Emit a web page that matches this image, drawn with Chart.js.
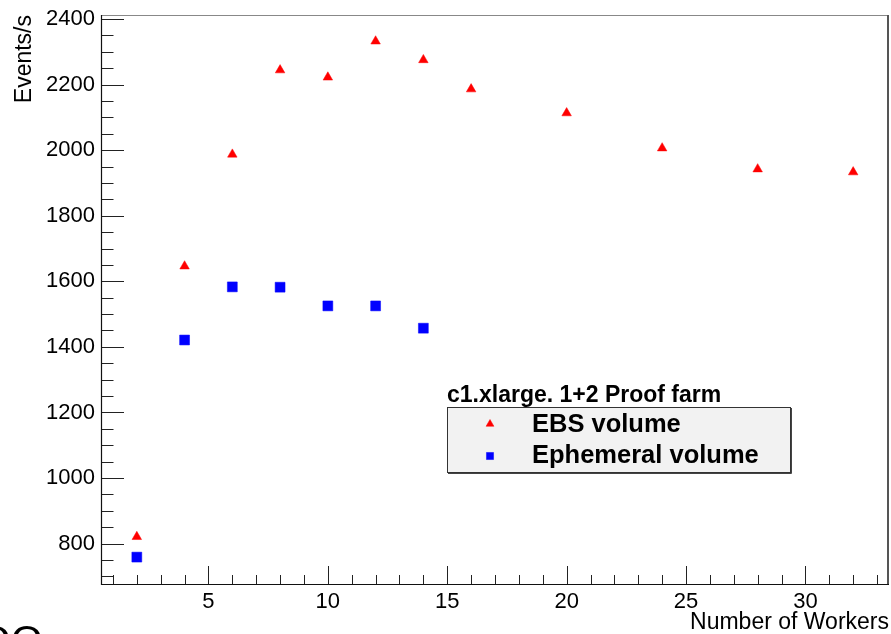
<!DOCTYPE html>
<html>
<head>
<meta charset="utf-8">
<script src="https://cdn.jsdelivr.net/npm/chart.js@4.4.0/dist/chart.umd.min.js"></script>
<style>
html,body{margin:0;padding:0;background:#fff;}
#wrap{width:891px;height:634px;position:relative;}
</style>
</head>
<body>
<div id="wrap"><canvas id="chart" width="891" height="634"></canvas></div>
<script>
// data
const workersEbs=[2,4,6,8,10,12,14,16,20,24,28,32];
const eventsEbs=[821,1646,1987,2244,2222,2332,2275,2186,2113,2006,1942,1933];
const workersEph=[2,4,6,8,10,12,14];
const eventsEph=[759,1421,1583,1582,1525,1525,1457];
const xTicks=[5,10,15,20,25,30];
const yTicks=[800,1000,1200,1400,1600,1800,2000,2200,2400];
const legendTitle="c1.xlarge. 1+2 Proof farm";

const FONT="'Liberation Sans', Arial, Helvetica, sans-serif";

const framePlugin={
  id:"frame",
  afterDraw(chart){
    const ctx=chart.ctx, ca=chart.chartArea;
    const xs=chart.scales.x, ys=chart.scales.y;
    ctx.save();
    // inner tick marks (major + minor)
    ctx.strokeStyle="#222"; ctx.lineWidth=1;
    ctx.beginPath();
    for(let v=700;v<=2400;v+=50){
      const py=Math.round(ys.getPixelForValue(v))+0.5;
      if(py<ca.top||py>ca.bottom) continue;
      const len=v%200===0?23:12.5;
      ctx.moveTo(ca.left,py); ctx.lineTo(ca.left+len,py);
    }
    for(let v=1;v<=33;v++){
      const px=Math.round(xs.getPixelForValue(v))+0.5;
      const len=v%5===0?18:9;
      ctx.moveTo(px,ca.bottom); ctx.lineTo(px,ca.bottom-len);
    }
    ctx.stroke();
    // frame
    ctx.strokeStyle="#888"; ctx.beginPath();
    ctx.moveTo(ca.left,ca.top+0.5); ctx.lineTo(ca.right,ca.top+0.5); ctx.stroke();
    ctx.strokeStyle="#555"; ctx.lineWidth=2; ctx.beginPath();
    ctx.moveTo(ca.right-1,ca.top); ctx.lineTo(ca.right-1,ca.bottom); ctx.stroke();
    ctx.strokeStyle="#111"; ctx.lineWidth=1.2; ctx.beginPath();
    ctx.moveTo(ca.left+0.5,ca.top); ctx.lineTo(ca.left+0.5,ca.bottom+0.5);
    ctx.lineTo(ca.right,ca.bottom+0.5); ctx.stroke();

    // legend
    ctx.fillStyle="#000";
    ctx.font="bold 23px "+FONT;
    ctx.textAlign="left"; ctx.textBaseline="alphabetic";
    ctx.fillText(legendTitle,447,402);
    ctx.fillStyle="#f2f2f2";
    ctx.fillRect(447.5,407.5,343,65);
    ctx.strokeStyle="#333"; ctx.lineWidth=1;
    ctx.strokeRect(447.5,407.5,343,65);
    ctx.strokeStyle="#444"; ctx.beginPath();
    ctx.moveTo(791.5,408); ctx.lineTo(791.5,473.5); ctx.lineTo(448,473.5); ctx.stroke();
    const rows=[[424,432,4.5],[456,463,5]];
    chart.data.datasets.forEach((ds,i)=>{
      const r=rows[i];
      ctx.fillStyle=ds.backgroundColor; ctx.strokeStyle=ds.backgroundColor; ctx.lineWidth=0.5;
      Chart.helpers.drawPoint(ctx,{pointStyle:ds.pointStyle,radius:r[2],borderWidth:0.5},490,r[0]);
      ctx.fillStyle="#000";
      ctx.font="bold 25.5px "+FONT;
      ctx.fillText(ds.label,532,r[1]);
    });

    // clipped text at the lower-left edge of the picture
    ctx.font="41px "+FONT;
    ctx.fillStyle="#000";
    ctx.fillText("OO",-21,654);
    ctx.restore();
  }
};

new Chart(document.getElementById("chart"),{
  type:"scatter",
  data:{
    datasets:[
      {label:"EBS volume",data:workersEbs.map((w,i)=>({x:w,y:eventsEbs[i]})),
       pointStyle:"triangle",pointRadius:5.5,pointHoverRadius:5.5,backgroundColor:"#ff0000",borderColor:"#ff0000",borderWidth:0.5},
      {label:"Ephemeral volume",data:workersEph.map((w,i)=>({x:w,y:eventsEph[i]})),
       pointStyle:"rect",pointRadius:7,pointHoverRadius:7,backgroundColor:"#0000ff",borderColor:"#0000ff",borderWidth:0.5}
    ]
  },
  options:{
    responsive:false,
    animation:false,
    devicePixelRatio:1,
    layout:{autoPadding:false,padding:{left:0,top:15,right:2,bottom:0}},
    plugins:{legend:{display:false},tooltip:{enabled:false}},
    scales:{
      x:{
        type:"linear",min:0.5,max:33.5,
        afterBuildTicks:s=>{s.ticks=xTicks.map(v=>({value:v}));},
        afterFit:s=>{s.height=50;s.paddingLeft=0;s.paddingRight=0;},
        grid:{display:false,drawTicks:false},
        border:{display:false},
        ticks:{padding:5,color:"#000",font:{family:FONT,size:22},maxRotation:0,autoSkip:false,
               callback:v=>String(v)},
        title:{display:true,text:"Number of Workers",align:"end",color:"#000",
               font:{family:FONT,size:23,lineHeight:1},padding:{top:0,bottom:0}}
      },
      y:{
        type:"linear",min:677,max:2412,
        afterBuildTicks:s=>{s.ticks=yTicks.map(v=>({value:v}));},
        afterFit:s=>{s.width=101;s.paddingTop=0;s.paddingBottom=0;},
        grid:{display:false,drawTicks:false},
        border:{display:false},
        ticks:{padding:6,color:"#000",font:{family:FONT,size:22},autoSkip:false,
               callback:v=>String(v)},
        title:{display:true,text:"Events/s",align:"end",color:"#000",
               font:{family:FONT,size:23,lineHeight:1},padding:{top:13,bottom:0}}
      }
    }
  },
  plugins:[framePlugin]
});
</script>
</body>
</html>
